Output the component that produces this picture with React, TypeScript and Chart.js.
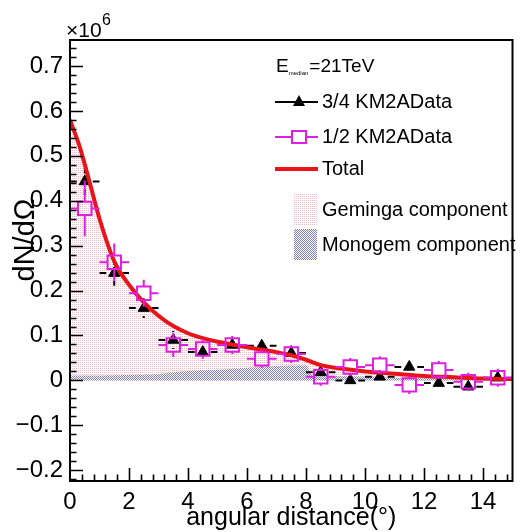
import React, { useEffect, useRef } from 'react';
import { Chart, registerables } from 'chart.js';

Chart.register(...registerables);

// ---------- data ----------
const binCenters = [0.5, 1.5, 2.5, 3.5, 4.5, 5.5, 6.5, 7.5, 8.5, 9.5, 10.5, 11.5, 12.5, 13.5, 14.5];
const binHalfWidths = [0.5, 0.5, 0.5, 0.5, 0.5, 0.5, 0.5, 0.5, 0.5, 0.5, 0.5, 0.5, 0.5, 0.5, 0.5];

// 3/4 KM2A data (units of 1e6)
const km2a34Values = [0.443, 0.239, 0.161, 0.09, 0.063, 0.079, 0.077, 0.061, 0.018, 0.0, 0.008, 0.03, -0.006, -0.014, 0.006];
const km2a34Errors = [0.03, 0.028, 0.022, 0.02, 0.018, 0.016, 0.016, 0.016, 0.016, 0.016, 0.016, 0.016, 0.016, 0.016, 0.016];

// 1/2 KM2A data (units of 1e6)
const km2a12Values = [0.383, 0.263, 0.194, 0.079, 0.07, 0.079, 0.048, 0.059, 0.008, 0.03, 0.034, -0.01, 0.023, -0.003, 0.006];
const km2a12Errors = [0.062, 0.042, 0.03, 0.027, 0.022, 0.02, 0.02, 0.02, 0.02, 0.02, 0.02, 0.02, 0.02, 0.02, 0.02];

// Total model curve
const totalX = [0, 0.33, 0.67, 1.0, 1.5, 2.0, 2.5, 3.0, 3.5, 4.0, 4.5, 5.0, 6.0, 7.0, 7.5, 8.0, 8.5, 9.0, 10.0, 11.0, 12.0, 13.0, 14.0, 15.0];
const totalY = [0.58, 0.52, 0.44, 0.36, 0.265, 0.213, 0.174, 0.144, 0.121, 0.105, 0.094, 0.086, 0.074, 0.063, 0.056, 0.046, 0.034, 0.028, 0.02, 0.015, 0.01, 0.007, 0.004, 0.003];

// Monogem component
const monogemX = [0, 1, 2, 3, 3.5, 4, 5, 6, 7, 8, 8.2, 9, 10, 11, 12, 13, 14, 15];
const monogemY = [0.011, 0.011, 0.012, 0.014, 0.018, 0.021, 0.024, 0.028, 0.032, 0.033, 0.012, 0.01, 0.008, 0.006, 0.005, 0.004, 0.003, 0.003];

const xTitle = 'angular distance(°)';
const yTitle = 'dN/dΩ';
const legendHeader = { main: 'E', sub: 'median', rest: '=21TeV' };
const legendLabels = ['3/4 KM2AData', '1/2 KM2AData', 'Total', 'Geminga component', 'Monogem component'];

// ---------- helpers ----------
const FONT = '"Liberation Sans", Arial, Helvetica, sans-serif';
const MAGENTA = '#e01ee0';
const RED = '#e8141a';

function makePattern(kind: 'pink' | 'blue'): CanvasPattern | string {
  const c = document.createElement('canvas');
  c.width = 2;
  c.height = 2;
  const g = c.getContext('2d');
  if (!g) return kind === 'pink' ? 'rgba(240,200,210,0.5)' : 'rgba(120,120,200,0.5)';
  if (kind === 'pink') {
    g.fillStyle = 'rgb(240,188,198)';
    g.fillRect(0, 0, 1, 1);
  } else {
    g.fillStyle = 'rgb(125,125,205)';
    g.fillRect(0, 0, 1, 1);
    g.fillRect(1, 1, 1, 1);
  }
  const p = g.createPattern(c, 'repeat');
  return p || 'rgba(0,0,0,0)';
}

const errorBarPlugin = {
  id: 'errorBars',
  afterDatasetDraw(chart: any, args: any) {
    const ds = chart.data.datasets[args.index] as any;
    if (!ds.errY) return;
    const { ctx, chartArea, scales } = chart;
    const xs = scales.x;
    const ys = scales.y;
    ctx.save();
    ctx.beginPath();
    ctx.rect(chartArea.left, chartArea.top, chartArea.right - chartArea.left, chartArea.bottom - chartArea.top);
    ctx.clip();
    ctx.strokeStyle = ds.errColor;
    ctx.lineWidth = ds.errWidth;
    const g = ds.errGap;
    ds.data.forEach((p: any, i: number) => {
      const px = xs.getPixelForValue(p.x);
      const py = ys.getPixelForValue(p.y);
      const x0 = xs.getPixelForValue(p.x - ds.errX[i]);
      const x1 = xs.getPixelForValue(p.x + ds.errX[i]);
      const yLo = ys.getPixelForValue(p.y - ds.errY[i]);
      const yHi = ys.getPixelForValue(p.y + ds.errY[i]);
      ctx.beginPath();
      if (px - g > x0) { ctx.moveTo(x0, py); ctx.lineTo(px - g, py); }
      if (px + g < x1) { ctx.moveTo(px + g, py); ctx.lineTo(x1, py); }
      if (py - g > yHi) { ctx.moveTo(px, yHi); ctx.lineTo(px, py - g); }
      if (py + g < yLo) { ctx.moveTo(px, py + g); ctx.lineTo(px, yLo); }
      ctx.stroke();
    });
    ctx.restore();
  },
};

function makeDecorPlugin(pinkPat: any, bluePat: any) {
  return {
    id: 'rootDecor',
    afterDraw(chart: any) {
      const { ctx, chartArea, scales } = chart;
      const xs = scales.x;
      const ys = scales.y;
      const { left, right, top, bottom } = chartArea;
      ctx.save();
      // frame
      ctx.strokeStyle = '#000';
      ctx.lineWidth = 2;
      ctx.strokeRect(left, top, right - left, bottom - top);
      // y ticks (inward)
      ctx.lineWidth = 1.6;
      ctx.beginPath();
      for (let k = -11; k <= 37; k++) {
        const v = k * 0.02;
        if (v < ys.min || v > ys.max) continue;
        const py = Math.round(ys.getPixelForValue(v)) + 0.5;
        const len = k % 5 === 0 ? 13 : 6.5;
        ctx.moveTo(left, py);
        ctx.lineTo(left + len, py);
      }
      // x ticks (inward)
      for (let k = 1; k <= 37; k++) {
        const v = k * 0.4;
        if (v > xs.max) continue;
        const px = Math.round(xs.getPixelForValue(v)) + 0.5;
        const len = k % 5 === 0 ? 13 : 6.5;
        ctx.moveTo(px, bottom);
        ctx.lineTo(px, bottom - len);
      }
      ctx.stroke();

      // y title
      ctx.fillStyle = '#000';
      ctx.save();
      ctx.translate(26, 240);
      ctx.rotate(-Math.PI / 2);
      ctx.font = `29px ${FONT}`;
      ctx.textAlign = 'center';
      ctx.textBaseline = 'middle';
      ctx.fillText(yTitle, 0, 0);
      ctx.restore();

      // x10^6 exponent
      ctx.textAlign = 'left';
      ctx.textBaseline = 'alphabetic';
      ctx.font = `21px ${FONT}`;
      ctx.fillText('×10', 66, 37);
      ctx.font = `16px ${FONT}`;
      ctx.fillText('6', 102, 25);

      // legend header
      ctx.font = `19px ${FONT}`;
      let lx = 276;
      ctx.fillText(legendHeader.main, lx, 72);
      lx += ctx.measureText(legendHeader.main).width;
      ctx.font = `6px ${FONT}`;
      ctx.fillText(legendHeader.sub, lx, 75);
      lx += ctx.measureText(legendHeader.sub).width + 1;
      ctx.font = `19px ${FONT}`;
      ctx.fillText(legendHeader.rest, lx, 72);

      // legend rows
      ctx.font = `20px ${FONT}`;
      ctx.textBaseline = 'middle';
      const textX = 322;
      const rowY = [102, 137, 169, 210, 245];
      // row 1: black line + triangle
      ctx.strokeStyle = '#000';
      ctx.lineWidth = 2;
      ctx.beginPath();
      ctx.moveTo(275, rowY[0]);
      ctx.lineTo(318, rowY[0]);
      ctx.stroke();
      ctx.beginPath();
      ctx.moveTo(299, rowY[0] - 7);
      ctx.lineTo(305, rowY[0] + 4);
      ctx.lineTo(293, rowY[0] + 4);
      ctx.closePath();
      ctx.fillStyle = '#000';
      ctx.fill();
      // row 2: magenta line + open square
      ctx.strokeStyle = MAGENTA;
      ctx.lineWidth = 2;
      ctx.beginPath();
      ctx.moveTo(275, rowY[1]);
      ctx.lineTo(292, rowY[1]);
      ctx.moveTo(306, rowY[1]);
      ctx.lineTo(318, rowY[1]);
      ctx.stroke();
      ctx.strokeRect(292, rowY[1] - 6, 14, 12);
      // row 3: red thick line
      ctx.strokeStyle = RED;
      ctx.lineWidth = 4;
      ctx.beginPath();
      ctx.moveTo(275, rowY[2]);
      ctx.lineTo(318, rowY[2]);
      ctx.stroke();
      // row 4/5: pattern boxes
      ctx.fillStyle = pinkPat;
      ctx.fillRect(294, 194, 23, 31);
      ctx.fillStyle = bluePat;
      ctx.fillRect(294, 229, 23, 31);
      // texts
      ctx.fillStyle = '#000';
      legendLabels.forEach((t, i) => ctx.fillText(t, textX, rowY[i]));
      ctx.restore();
    },
  };
}

export default function App() {
  const canvasRef = useRef<HTMLCanvasElement | null>(null);

  useEffect(() => {
    const canvas = canvasRef.current;
    if (!canvas) return;
    const pinkPat = makePattern('pink');
    const bluePat = makePattern('blue');

    const chart = new Chart(canvas, {
      type: 'scatter',
      data: {
        datasets: [
          {
            label: legendLabels[1],
            data: binCenters.map((x, i) => ({ x, y: km2a12Values[i] })),
            showLine: false,
            pointStyle: 'rect',
            pointRadius: 9.5,
            pointBorderWidth: 2,
            pointBorderColor: MAGENTA,
            pointBackgroundColor: 'rgba(0,0,0,0)',
            order: 0,
            errX: binHalfWidths,
            errY: km2a12Errors,
            errColor: MAGENTA,
            errWidth: 2,
            errGap: 7,
          } as any,
          {
            label: legendLabels[4],
            data: monogemX.map((x, i) => ({ x, y: monogemY[i] })),
            showLine: true,
            borderWidth: 0,
            borderColor: 'rgba(0,0,0,0)',
            backgroundColor: bluePat,
            fill: 'origin',
            pointRadius: 0,
            cubicInterpolationMode: 'monotone',
            order: 1,
          } as any,
          {
            label: legendLabels[2],
            data: totalX.map((x, i) => ({ x, y: totalY[i] })),
            showLine: true,
            borderWidth: 4,
            borderColor: RED,
            backgroundColor: pinkPat,
            fill: 'origin',
            pointRadius: 0,
            cubicInterpolationMode: 'monotone',
            order: 2,
          } as any,
          {
            label: legendLabels[0],
            data: binCenters.map((x, i) => ({ x, y: km2a34Values[i] })),
            showLine: false,
            pointStyle: 'triangle',
            pointRadius: 6.5,
            pointBorderWidth: 1,
            pointBorderColor: '#000',
            pointBackgroundColor: '#000',
            order: 3,
            errX: binHalfWidths,
            errY: km2a34Errors,
            errColor: '#000',
            errWidth: 2,
            errGap: 8,
          } as any,
        ],
      },
      options: {
        responsive: false,
        animation: false,
        events: [],
        layout: { padding: { top: 40, right: 5, left: 0, bottom: 0 } },
        plugins: {
          legend: { display: false },
          tooltip: { enabled: false },
          filler: { drawTime: 'beforeDatasetsDraw' },
        } as any,
        scales: {
          x: {
            type: 'linear',
            min: 0,
            max: 15,
            grid: { display: false, drawTicks: false },
            border: { display: false },
            ticks: {
              stepSize: 2,
              includeBounds: false,
              autoSkip: false,
              maxRotation: 0,
              padding: 7,
              color: '#000',
              font: { family: FONT, size: 24 },
              callback: (v: any) => String(v),
            },
            title: {
              display: true,
              text: xTitle,
              color: '#000',
              font: { family: FONT, size: 25 },
              padding: { top: 0, bottom: -1 },
            },
            afterFit: (s: any) => { s.height = 51; },
          },
          y: {
            type: 'linear',
            min: -0.224,
            max: 0.758,
            grid: { display: false, drawTicks: false },
            border: { display: false },
            ticks: {
              stepSize: 0.1,
              includeBounds: false,
              autoSkip: false,
              padding: 7,
              color: '#000',
              font: { family: FONT, size: 24 },
              callback: (v: any) => {
                const n = Math.round(Number(v) * 10) / 10;
                if (n === 0) return '0';
                return (n < 0 ? '\u2212' : '') + Math.abs(n).toFixed(1);
              },
            },
            afterFit: (s: any) => { s.width = 70; },
          },
        },
      } as any,
      plugins: [errorBarPlugin, makeDecorPlugin(pinkPat, bluePat)],
    });
    return () => chart.destroy();
  }, []);

  return (
    <div style={{ position: 'fixed', left: 0, top: 0, width: 524, height: 532, background: '#fff' }}>
      <canvas ref={canvasRef} width={524} height={532} style={{ width: 524, height: 532, display: 'block' }} />
    </div>
  );
}
